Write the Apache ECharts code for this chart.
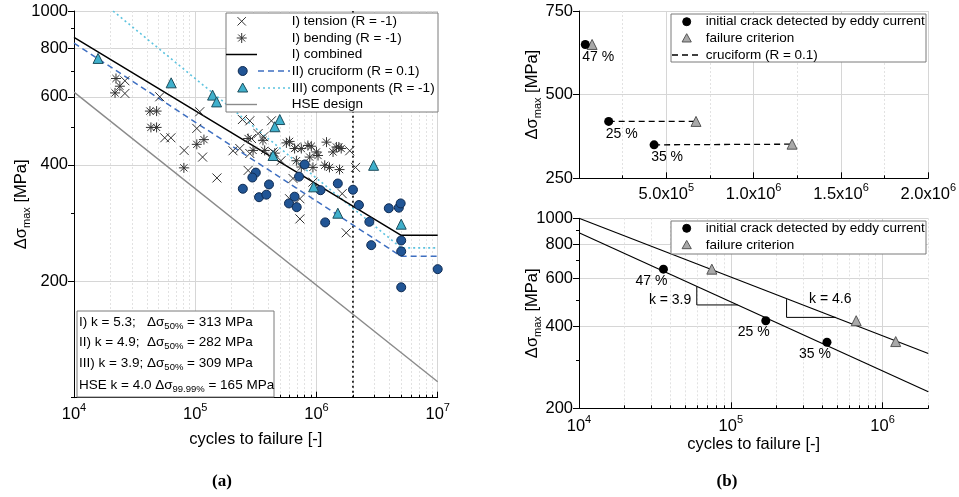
<!DOCTYPE html>
<html>
<head>
<meta charset="utf-8">
<script src="https://cdn.jsdelivr.net/npm/echarts@6/dist/echarts.min.js"></script>
<style>
html, body { margin: 0; padding: 0; background: #fff; }
#main { width: 959px; height: 497px; }
</style>
</head>
<body>
<div id="main"></div>
<script>
var FONT = '"Liberation Sans", Arial, sans-serif';

// ---- (a) S-N data: [cycles to failure, stress range MPa] ----
var tension = [[2.63e4, 660], [2.63e4, 612], [5.1e4, 600], [5.6e4, 470], [6.3e4, 470], [8.1e4, 436],
  [1.09e5, 549], [1.03e5, 497], [1.15e5, 419], [1.51e5, 370], [2.45e5, 524], [2.82e5, 520],
  [4.25e5, 520], [3.3e5, 482], [3.67e5, 473], [2.91e5, 468], [2.05e5, 435], [2.33e5, 441],
  [2.82e5, 428], [2.73e5, 387], [4.38e5, 432], [5.1e5, 410], [6.83e5, 445], [6.4e5, 369],
  [6.0e5, 327], [7.3e5, 327], [7.3e5, 290], [9.35e5, 361], [1.63e6, 337], [1.76e6, 267],
  [1.88e6, 435], [2.1e6, 394]];
var bending = [[2.22e4, 669], [2.39e4, 639], [2.18e4, 614], [4.23e4, 551], [4.8e4, 551], [4.31e4, 500],
  [4.8e4, 500], [8.06e4, 393], [1.03e5, 452], [1.18e5, 465], [2.73e5, 468], [3.62e5, 463],
  [3.0e5, 436], [3.74e5, 436], [4.53e5, 429], [5.65e5, 456], [6.0e5, 460], [6.6e5, 441],
  [7.5e5, 441], [8.5e5, 449], [9.07e5, 447], [8.8e5, 419], [1.0e6, 432], [1.03e6, 423],
  [1.21e6, 458], [1.37e6, 432], [1.46e6, 445], [1.53e6, 445], [1.6e6, 441], [9.35e5, 394],
  [1.17e6, 399], [1.28e6, 394], [1.55e6, 389], [6.83e5, 410], [7.5e5, 395]];
var cruciform = [[8.0e5, 401], [3.16e5, 382], [2.96e5, 371], [2.47e5, 347], [3.36e5, 330], [3.86e5, 335],
  [4.06e5, 356], [7.18e5, 373], [6.6e5, 331], [5.93e5, 318], [6.87e5, 311], [1.5e6, 358],
  [1.08e6, 344], [2.0e6, 345], [2.24e6, 315], [1.18e6, 284], [2.73e6, 285], [2.83e6, 248],
  [3.95e6, 309], [4.78e6, 310], [4.95e6, 318], [5.0e6, 255], [5.0e6, 239], [5.0e6, 193], [1.0e7, 215]];
var components = [[1.58e4, 754], [6.33e4, 652], [1.39e5, 606], [1.5e5, 582], [4.98e5, 524], [4.53e5, 502],
  [4.38e5, 423], [9.48e5, 351], [1.5e6, 300], [2.96e6, 399], [5.0e6, 281]];

// fitted curves
var combinedFit = [[1e4, 855], [5e6, 263], [1e7, 263]];
var cruciformFit = [[1e4, 826], [5e6, 232], [1e7, 232]];
var componentsFit = [[2.1e4, 1000], [5e6, 244], [1e7, 244]];
var hseDesign = [[1e4, 617], [1e7, 110]];
var refCycles = [[2e6, 100], [2e6, 1000]];

// ---- (b) crack detection vs. failure ----
var crackDetected = [[3.6e4, 650], [1.7e5, 420], [4.3e5, 350]];
var failure = [[7.5e4, 650], [6.7e5, 420], [1.22e6, 352]];
var crackShare = ['47 %', '25 %', '35 %'];
var cruciformPairs = [1, 2];
var failureFit = [[1e4, 1000], [2e6, 318]];
var crackFit = [[1e4, 885], [2e6, 230]];
var slope39 = [[5.97e4, 560], [5.97e4, 480], [1.11e5, 480]];
var slope46 = [[2.33e5, 504], [2.33e5, 432], [4.93e5, 432]];
var slopeText = ['k = 3.9', 'k = 4.6'];

// ticks
var cycleDecadesA = [4, 5, 6, 7];
var cycleDecadesB = [4, 5, 6];
var stressTicks = [200, 400, 600, 800, 1000];
var stressMinor = [100, 300, 500, 700, 900];

function lg(p) { return [Math.log10(p[0]), Math.log10(p[1])]; }
function logs(arr) { return arr.map(function (v) { return Math.log10(v); }); }
function minorLog(lo, hi, max) {
  var out = [];
  for (var e = lo; e < hi; e++) {
    for (var k = 2; k <= 9; k++) {
      var v = Math.log10(k * Math.pow(10, e));
      if (v <= max + 1e-9) out.push(v);
    }
  }
  return out;
}

var tickRich = {
  sup: { fontSize: 11, fontFamily: FONT, color: '#000', verticalAlign: 'top', lineHeight: 12 }
};
var nameRich = {
  n: { fontSize: 16.5, fontFamily: FONT, color: '#000', lineHeight: 22 },
  s: { fontSize: 11, fontFamily: FONT, color: '#000', lineHeight: 10, verticalAlign: 'bottom' }
};
var YNAME = '{n|Δσ}{s|max}{n| [MPa]}';

function majorAxis(o) {
  return {
    type: 'value', gridIndex: o.grid, min: o.min, max: o.max, position: o.pos, interval: o.interval,
    name: o.name || '', nameLocation: 'middle', nameGap: o.nameGap || 0, nameRotate: o.nameRotate || 0,
    nameMoveOverlap: false,
    nameTextStyle: { fontFamily: FONT, fontSize: 16.5, color: '#000', rich: nameRich },
    axisLine: { show: true, onZero: false, lineStyle: { color: '#000', width: 1 } },
    axisTick: { show: true, inside: o.inside, length: 6, customValues: o.ticks, lineStyle: { color: '#000' } },
    axisLabel: {
      show: true, customValues: o.ticks, formatter: o.fmt, margin: o.margin,
      fontFamily: FONT, fontSize: 16.5, color: '#000', lineHeight: 24, rich: tickRich,
      showMinLabel: o.showMin !== false, showMaxLabel: true, hideOverlap: false
    },
    minorTick: o.minor ? { show: true, splitNumber: 2, length: 3, lineStyle: { color: '#000' } } : { show: false },
    minorSplitLine: o.minor ? { show: true, lineStyle: { color: '#e2e2e2', type: [2, 2] } } : { show: false },
    splitLine: { show: true, lineStyle: { color: '#d6d6d6', width: 1 } }
  };
}
function minorAxis(grid, min, max, pos, ticks, inside, lines) {
  return {
    type: 'value', gridIndex: grid, min: min, max: max, position: pos,
    axisLine: { show: false, onZero: false },
    axisLabel: { show: false, customValues: ticks },
    axisTick: { show: true, inside: inside, length: 3, customValues: ticks, lineStyle: { color: '#000' } },
    splitLine: { show: lines, lineStyle: { color: '#e2e2e2', type: [2, 2], width: 1 } }
  };
}
function powFmt(v) { return '10{sup|' + Math.round(v) + '}'; }
function stressFmt(v) { return String(Math.round(Math.pow(10, v))); }
function sciFmt(v) {
  if (v === 0) return '';
  var e = Math.floor(Math.log10(v) + 1e-9);
  return (v / Math.pow(10, e)).toFixed(1) + 'x10{sup|' + e + '}';
}

var maxB = Math.log10(2e6);

var xAxes = [
  majorAxis({ grid: 0, min: 4, max: 7, pos: 'bottom', ticks: cycleDecadesA, inside: true, fmt: powFmt, margin: 5,
    name: 'cycles to failure [-]', nameGap: 33 }),
  minorAxis(0, 4, 7, 'bottom', minorLog(4, 7, 7), true, true),
  majorAxis({ grid: 1, min: 0, max: 2e6, interval: 5e5, pos: 'bottom', inside: true, fmt: sciFmt, margin: 4,
    minor: true, showMin: false }),
  majorAxis({ grid: 2, min: 4, max: maxB, pos: 'bottom', ticks: cycleDecadesB, inside: true, fmt: powFmt, margin: 6,
    name: 'cycles to failure [-]', nameGap: 28 }),
  minorAxis(2, 4, maxB, 'bottom', minorLog(4, 7, maxB), true, true)
];
var yAxes = [
  majorAxis({ grid: 0, min: 2, max: 3, pos: 'left', ticks: logs(stressTicks), inside: false, fmt: stressFmt, margin: 6,
    name: YNAME, nameGap: 42, nameRotate: 90 }),
  minorAxis(0, 2, 3, 'left', logs(stressMinor), false, false),
  majorAxis({ grid: 1, min: 250, max: 750, interval: 250, pos: 'left', inside: false, margin: 6,
    name: YNAME, nameGap: 36, nameRotate: 90 }),
  majorAxis({ grid: 2, min: Math.log10(200), max: 3, pos: 'left', ticks: logs(stressTicks), inside: false, fmt: stressFmt, margin: 6,
    name: YNAME, nameGap: 36, nameRotate: 90 }),
  minorAxis(2, Math.log10(200), 3, 'left', logs(stressMinor), false, false)
];

function lineSeries(data, xi, color, width, dash, z) {
  return {
    type: 'line', xAxisIndex: xi, yAxisIndex: xi, data: data, symbol: 'none', silent: true, z: z || 2,
    lineStyle: { color: color, width: width, type: dash || 'solid' }
  };
}
function scatterSeries(data, xi, symbol, size, fill, stroke, width) {
  return {
    type: 'scatter', xAxisIndex: xi, yAxisIndex: xi, data: data, symbol: symbol, symbolSize: size,
    silent: true, z: 5,
    itemStyle: { color: fill, borderColor: stroke, borderWidth: width, opacity: 1 }
  };
}

var crossPath = 'path://M0,0L10,10M10,0L0,10';
var starPath = 'path://M5,0L5,10M0,5L10,5M1.4,1.4L8.6,8.6M8.6,1.4L1.4,8.6';

var series = [
  lineSeries(hseDesign.map(lg), 0, '#8a8a8a', 1.4),
  lineSeries(refCycles.map(lg), 0, '#000', 1.6, [2, 3]),
  lineSeries(componentsFit.map(lg), 0, '#5cc3df', 1.6, [2, 3]),
  lineSeries(cruciformFit.map(lg), 0, '#3e6fc1', 1.5, [6, 4]),
  lineSeries(combinedFit.map(lg), 0, '#000', 1.5),
  scatterSeries(tension.map(lg), 0, crossPath, 9, 'none', '#333', 1),
  scatterSeries(bending.map(lg), 0, starPath, 10, 'none', '#333', 1),
  scatterSeries(cruciform.map(lg), 0, 'circle', 9, '#215595', '#0f2b52', 1),
  scatterSeries(components.map(lg), 0, 'triangle', 10, '#3fb0cc', '#1d4d5c', 1)
];

// (b) top: linear axes
cruciformPairs.forEach(function (i) {
  series.push(lineSeries([crackDetected[i], failure[i]], 2, '#000', 1.3, [6, 4]));
});
series.push(scatterSeries(failure, 2, 'triangle', 10, '#a9a9a9', '#555', 1));
var topCrack = scatterSeries(crackDetected, 2, 'circle', 9, '#000', '#000', 0);
topCrack.label = { show: true, position: 'bottom', distance: 2, offset: [13, -1],
  formatter: function (p) { return crackShare[p.dataIndex]; },
  fontFamily: FONT, fontSize: 14, color: '#000' };
series.push(topCrack);

// (b) bottom: log axes
series.push(lineSeries(failureFit.map(lg), 3, '#000', 1.2));
series.push(lineSeries(crackFit.map(lg), 3, '#000', 1.2));
series.push(lineSeries(slope39.map(lg), 3, '#000', 1));
series.push(lineSeries(slope46.map(lg), 3, '#000', 1));
series.push(scatterSeries(failure.map(lg), 3, 'triangle', 10, '#a9a9a9', '#555', 1));
var botCrack = scatterSeries(crackDetected.map(lg), 3, 'circle', 9, '#000', '#000', 0);
botCrack.label = { show: true, position: 'bottom', distance: 2, offset: [-12, -2],
  formatter: function (p) { return crackShare[p.dataIndex]; },
  fontFamily: FONT, fontSize: 14, color: '#000' };
series.push(botCrack);
// slope annotations anchored to the triangles
var mid39 = [slope39[0][0], Math.sqrt(slope39[0][1] * slope39[1][1])];
series.push({
  type: 'scatter', xAxisIndex: 3, yAxisIndex: 3, silent: true, symbolSize: 1, z: 6,
  itemStyle: { color: 'rgba(0,0,0,0)', opacity: 1 },
  data: [
    { value: lg(mid39), label: { position: 'left', distance: 5, offset: [0, 4] } },
    { value: lg(slope46[0]), label: { position: 'right', distance: 22, offset: [0, 0] } }
  ],
  label: { show: true, formatter: function (p) { return slopeText[p.dataIndex]; },
    fontFamily: FONT, fontSize: 14, color: '#000', opacity: 1 }
});

// ---- legends and annotation boxes ----
var els = [];
function box(x, y, w, h) {
  els.push({ type: 'rect', z: 100, silent: true, shape: { x: x, y: y, width: w, height: h },
    style: { fill: '#fff', stroke: '#7a7a7a', lineWidth: 1 } });
}
function seg(x1, y1, x2, y2, color, width, dash) {
  els.push({ type: 'line', z: 101, silent: true, shape: { x1: x1, y1: y1, x2: x2, y2: y2 },
    style: { stroke: color, lineWidth: width || 1, lineDash: dash || null } });
}
function dot(cx, cy, r, fill, stroke) {
  els.push({ type: 'circle', z: 101, silent: true, shape: { cx: cx, cy: cy, r: r },
    style: { fill: fill, stroke: stroke, lineWidth: 1 } });
}
function tri(cx, cy, r, fill, stroke) {
  els.push({ type: 'polygon', z: 101, silent: true,
    shape: { points: [[cx, cy - r], [cx + r, cy + r * 0.8], [cx - r, cy + r * 0.8]] },
    style: { fill: fill, stroke: stroke, lineWidth: 1 } });
}
function txt(x, y, s, size, extra) {
  var st = { text: s, fontSize: size, fontFamily: FONT, fill: '#000', align: 'left', verticalAlign: 'middle' };
  if (extra) for (var k in extra) st[k] = extra[k];
  els.push({ type: 'text', z: 102, silent: true, x: x, y: y, style: st });
}

// (a) legend
var rowsA = [21.3, 38, 54.5, 71, 88, 104.5];
var legendA = ['I) tension (R = -1)', 'I) bending (R = -1)', 'I) combined',
  'II) cruciform (R = 0.1)', 'III) components (R = -1)', 'HSE design'];
box(226, 13, 212, 99);
seg(237.5, rowsA[0] - 4.2, 245.9, rowsA[0] + 4.2, '#333'); seg(245.9, rowsA[0] - 4.2, 237.5, rowsA[0] + 4.2, '#333');
seg(241.7, rowsA[1] - 5, 241.7, rowsA[1] + 5, '#333'); seg(236.7, rowsA[1], 246.7, rowsA[1], '#333');
seg(238.2, rowsA[1] - 3.5, 245.2, rowsA[1] + 3.5, '#333'); seg(245.2, rowsA[1] - 3.5, 238.2, rowsA[1] + 3.5, '#333');
seg(226, rowsA[2], 257, rowsA[2], '#000', 1.5);
dot(242.7, rowsA[3], 4.5, '#215595', '#0f2b52'); seg(258, rowsA[3], 290, rowsA[3], '#3e6fc1', 1.5, [6, 4]);
tri(242.7, rowsA[4], 5, '#3fb0cc', '#1d4d5c'); seg(258, rowsA[4], 290, rowsA[4], '#5cc3df', 1.6, [2, 3]);
seg(226, rowsA[5], 257, rowsA[5], '#8a8a8a', 1.4);
legendA.forEach(function (s, i) { txt(291.7, rowsA[i], s, 13.5); });

// (a) fit parameters
var subRich = {
  s: { fontSize: 9.5, fontFamily: FONT, color: '#000', verticalAlign: 'bottom', lineHeight: 9 }
};
box(77, 311, 197, 86);
var fitRows = [322.3, 342.7, 363.3, 385];
var fitPrefix = ['I) k = 5.3;', 'II) k = 4.9;', 'III) k = 3.9;'];
var fitValue = ['Δσ{s|50%} = 313 MPa', 'Δσ{s|50%} = 282 MPa', 'Δσ{s|50%} = 309 MPa'];
fitPrefix.forEach(function (s, i) {
  txt(79, fitRows[i], s, 13.5);
  txt(147, fitRows[i], fitValue[i], 13.5, { rich: subRich, lineHeight: 18 });
});
txt(79, fitRows[3], 'HSE k = 4.0 Δσ{s|99.99%} = 165 MPa', 13.5, { rich: subRich, lineHeight: 18 });

// (b) top legend
box(671, 14, 255, 48);
dot(686.7, 21.7, 4, '#000', '#000');
tri(686.7, 38.3, 4.6, '#a9a9a9', '#555');
seg(672, 55, 700, 55, '#000', 1.3, [6, 4]);
txt(705.7, 21.7, 'initial crack detected by eddy current', 13.5);
txt(705.7, 38.3, 'failure criterion', 13.5);
txt(705.7, 55, 'cruciform (R = 0.1)', 13.5);

// (b) bottom legend
box(671, 221, 255, 33);
dot(686.7, 228.3, 4, '#000', '#000');
tri(686.7, 245, 4.6, '#a9a9a9', '#555');
txt(705.7, 228.3, 'initial crack detected by eddy current', 13.5);
txt(705.7, 245, 'failure criterion', 13.5);

// sub-figure captions
txt(222, 482, '(a)', 17, { align: 'center', fontFamily: '"Liberation Serif", "DejaVu Serif", serif', fontWeight: 'bold' });
txt(727, 482, '(b)', 17, { align: 'center', fontFamily: '"Liberation Serif", "DejaVu Serif", serif', fontWeight: 'bold' });

var chart = echarts.init(document.getElementById('main'));
chart.setOption({
  animation: false,
  backgroundColor: '#fff',
  textStyle: { fontFamily: FONT },
  grid: [
    { left: 74, top: 11, width: 363.7, height: 386.7, containLabel: false, outerBoundsMode: 'none' },
    { left: 579, top: 11, width: 349.3, height: 167.3, containLabel: false, outerBoundsMode: 'none' },
    { left: 579, top: 218.3, width: 349.3, height: 190, containLabel: false, outerBoundsMode: 'none' }
  ],
  xAxis: xAxes,
  yAxis: yAxes,
  series: series,
  graphic: { elements: els }
});
</script>
</body>
</html>
